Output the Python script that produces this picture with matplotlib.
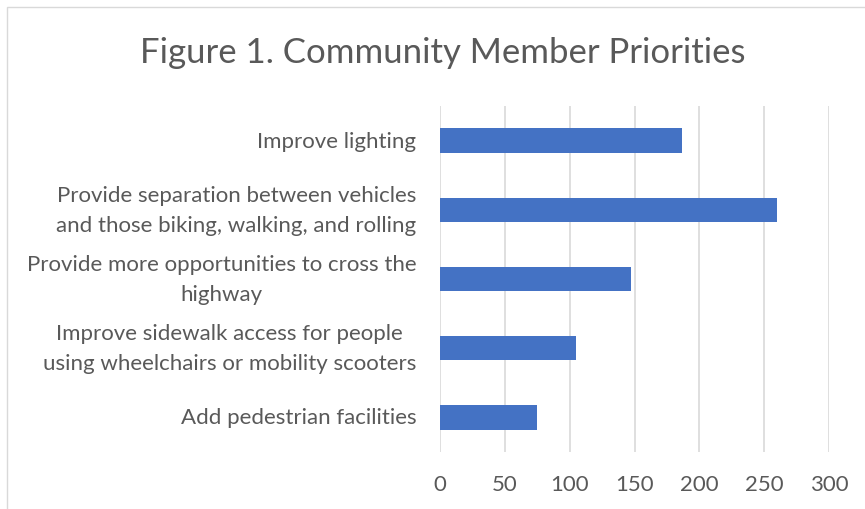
import matplotlib
matplotlib.use("Agg")
import matplotlib.pyplot as plt
from matplotlib.patches import Rectangle

categories = [
    "Improve lighting",
    "Provide separation between vehicles\nand those biking, walking, and rolling",
    "Provide more opportunities to cross the\nhighway",
    "Improve sidewalk access for people\nusing wheelchairs or mobility scooters",
    "Add pedestrian facilities",
]
values = [187, 260, 147, 105, 75]
xticks = [0, 50, 100, 150, 200, 250, 300]

text_color = "#595959"
bar_color = "#4472C4"
grid_color = "#D9D9D9"

plt.rcParams["font.family"] = ["Lato", "DejaVu Sans"]

fig = plt.figure(figsize=(8.65, 5.10), dpi=100)
ax = fig.add_axes([440 / 865, 1 - 453 / 510, (829 - 440) / 865, (453 - 107) / 510])

ypos = list(range(len(categories)))[::-1]
ax.barh(ypos, values, height=0.355, color=bar_color, zorder=3)

ax.set_xlim(0, 300)
ax.set_ylim(-0.5, len(categories) - 0.5)
ax.set_xticks(xticks)
ax.set_xticklabels([str(t) for t in xticks])
ax.set_yticks(ypos)
ax.set_yticklabels(categories, linespacing=1.62)

for s in ax.spines.values():
    s.set_visible(False)
ax.grid(axis="x", color=grid_color, linewidth=1.2, zorder=0)
ax.tick_params(axis="both", length=0, labelsize=16, colors=text_color)
ax.tick_params(axis="x", pad=16)
ax.tick_params(axis="y", pad=17)
for lbl in ax.get_yticklabels():
    lbl.set_horizontalalignment("right")
    lbl.set_verticalalignment("center")
    lbl.set_multialignment("center")

fig.text(443 / 865, 1 - 53 / 510, "Figure 1. Community Member Priorities",
         ha="center", va="center", fontsize=25, color=text_color)

# chart area border (left/top visible in the crop)
fig.patches.append(Rectangle((7 / 865, -0.1), 1.2, 1 - 8 / 510 + 0.1,
                             transform=fig.transFigure, fill=False,
                             edgecolor="#D9D9D9", linewidth=1))

fig.savefig("out.png", dpi=100)
